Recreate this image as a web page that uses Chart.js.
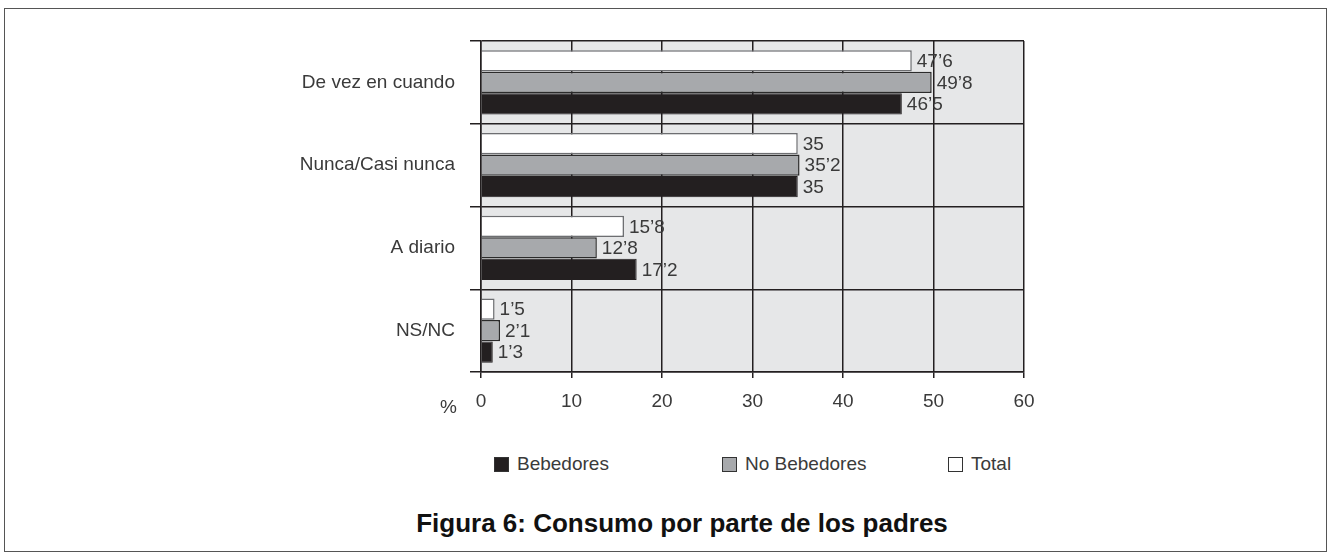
<!DOCTYPE html>
<html>
<head>
<meta charset="utf-8">
<script src="https://cdn.jsdelivr.net/npm/chart.js@4"></script>
<style>
  body { margin:0; background:#fff; width:1333px; height:555px; overflow:hidden; font-family:"Liberation Sans", Arial, sans-serif; }
  #frame { position:absolute; left:4px; top:8px; width:1323px; height:544px; border:1.5px solid #555; box-sizing:border-box; }
  #box { position:absolute; left:0; top:0; width:1333px; height:430px; }
  #pct { position:absolute; left:440px; top:396px; font-size:19px; color:#3a3a3a; }
  .leg { position:absolute; top:455px; height:18px; display:flex; align-items:center; font-size:19px; color:#3a3a3a; }
  .leg span.sw { display:inline-block; width:15px; height:15px; box-sizing:border-box; border:1.3px solid #333; margin-right:8px; }
  #title { position:absolute; left:0; width:1364px; top:508px; text-align:center; font-weight:bold; font-size:26px; color:#111; }
</style>
</head>
<body>
<div id="frame"></div>
<div id="box"><canvas id="Chart1"></canvas></div>
<div id="pct">%</div>
<div id="legend"></div>
<div id="title">Figura 6: Consumo por parte de los padres</div>
<script>
// datos
let categorias = ["De vez en cuando", "Nunca/Casi nunca", "A diario", "NS/NC"]
let total = [47.6, 35, 15.8, 1.5]
let noBebedores = [49.8, 35.2, 12.8, 2.1]
let bebedores = [46.5, 35, 17.2, 1.3]
let ticksX = [0, 10, 20, 30, 40, 50, 60]

let legendLeft = [494, 722, 948]

// fondo gris del area del grafico
const fondo = {
    id: "fondo",
    beforeDraw(chart){
        const {ctx, chartArea} = chart
        ctx.save()
        ctx.fillStyle = "#e6e7e8"
        ctx.fillRect(chartArea.left, chartArea.top, chartArea.right - chartArea.left, chartArea.bottom - chartArea.top)
        ctx.restore()
    }
}

// etiquetas con los valores al final de cada barra
const etiquetas = {
    id: "etiquetas",
    afterDatasetsDraw(chart){
        const ctx = chart.ctx
        ctx.save()
        ctx.font = "19px 'Liberation Sans', Arial, sans-serif"
        ctx.fillStyle = "#3a3a3a"
        ctx.textBaseline = "middle"
        chart.data.datasets.forEach((ds, i) => {
            chart.getDatasetMeta(i).data.forEach((bar, j) => {
                const txt = String(ds.data[j]).replace(".", "\u2019")
                ctx.fillText(txt, bar.x + 5, bar.y + 1)
            })
        })
        ctx.restore()
    }
}

document.addEventListener("DOMContentLoaded", () => {
    const chart = new Chart(document.getElementById("Chart1"), {
        type: "bar",
        data: {
            labels: categorias,
            datasets: [
                { label: "Total", data: total, backgroundColor: "#ffffff", borderColor: "#6d6e71", borderWidth: 1.5 },
                { label: "No Bebedores", data: noBebedores, backgroundColor: "#a7a9ac", borderColor: "#2b2b2b", borderWidth: 1.5 },
                { label: "Bebedores", data: bebedores, backgroundColor: "#231f20", borderColor: "#231f20", borderWidth: 1 }
            ]
        },
        options: {
            indexAxis: "y",
            responsive: true,
            maintainAspectRatio: false,
            animation: false,
            categoryPercentage: 0.78,
            barPercentage: 0.99,
            layout: { padding: { left: 0, top: 41, right: 309, bottom: 0 } },
            plugins: {
                legend: { display: false },
                tooltip: { enabled: false },
                title: { display: false }
            },
            scales: {
                x: {
                    type: "linear",
                    min: ticksX[0],
                    max: ticksX[ticksX.length - 1],
                    afterBuildTicks: (scale) => { scale.ticks = ticksX.map(v => ({ value: v })) },
                    afterFit: (scale) => { scale.height = 58 },
                    grid: { color: "#231f20", lineWidth: 1.5, tickLength: 6 },
                    border: { color: "#231f20", width: 1.5 },
                    ticks: { color: "#3a3a3a", padding: 12, font: { size: 19, family: "'Liberation Sans', Arial, sans-serif" } }
                },
                y: {
                    afterFit: (scale) => { scale.width = 481 },
                    grid: { color: "#231f20", lineWidth: 1.5, tickLength: 11, offset: true },
                    border: { color: "#231f20", width: 1.5 },
                    ticks: { color: "#3a3a3a", padding: 15, font: { size: 19, family: "'Liberation Sans', Arial, sans-serif" } }
                }
            }
        },
        plugins: [fondo, etiquetas]
    })

    // leyenda en orden inverso (Bebedores, No Bebedores, Total)
    const leg = document.getElementById("legend")
    chart.data.datasets.slice().reverse().forEach((ds, i) => {
        const item = document.createElement("div")
        item.className = "leg"
        item.style.left = legendLeft[i] + "px"
        item.innerHTML = `<span class="sw" style="background:${ds.backgroundColor}"></span>${ds.label}`
        leg.appendChild(item)
    })
})
</script>
</body>
</html>
